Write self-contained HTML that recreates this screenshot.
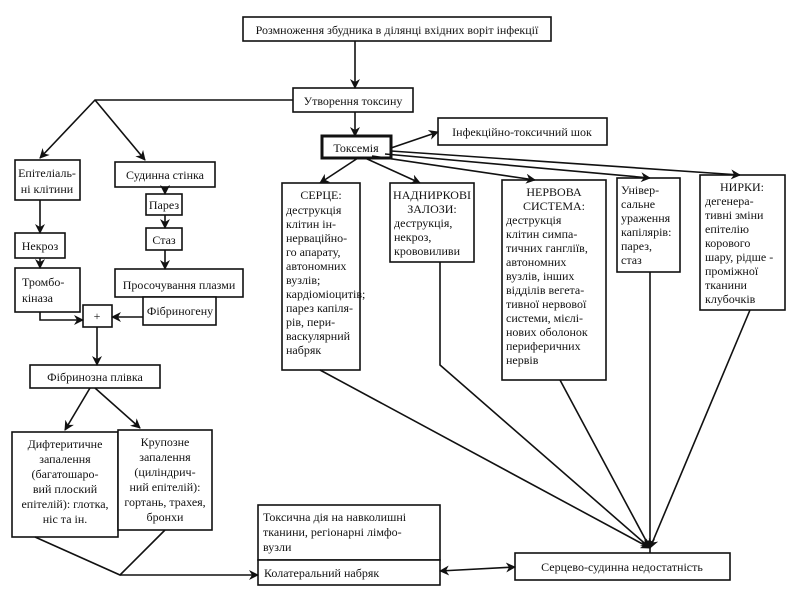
<!DOCTYPE html>
<html><head><meta charset="utf-8"><style>
body{margin:0;background:#fff;}
svg{display:block;font-family:"Liberation Serif",serif;font-size:12px;}
</style></head><body>
<svg width="800" height="600" viewBox="0 0 800 600" xmlns="http://www.w3.org/2000/svg">
<defs><marker id="a" markerWidth="10" markerHeight="10" refX="9" refY="5" orient="auto" markerUnits="userSpaceOnUse"><path d="M0,0 L10,5 L0,10 L3,5z" fill="#111"/></marker>
<marker id="b" markerWidth="10" markerHeight="10" refX="1" refY="5" orient="auto" markerUnits="userSpaceOnUse"><path d="M10,0 L0,5 L10,10 L7,5z" fill="#111"/></marker></defs>
<g fill="#fff" stroke="#111" stroke-width="1.6">
<rect x="243" y="17" width="308" height="24"/>
<rect x="293" y="88" width="120" height="24"/>
<rect x="322" y="136" width="69" height="22" stroke-width="3"/>
<rect x="438" y="118" width="169" height="27"/>
<rect x="15" y="160" width="65" height="40"/>
<rect x="115" y="162" width="100" height="25"/>
<rect x="146" y="194" width="36" height="21"/>
<rect x="146" y="228" width="36" height="22"/>
<rect x="115" y="269" width="128" height="28"/>
<rect x="143" y="297" width="73" height="28"/>
<rect x="15" y="233" width="50" height="25"/>
<rect x="15" y="268" width="65" height="44"/>
<rect x="83" y="305" width="29" height="22"/>
<rect x="30" y="365" width="130" height="23"/>
<rect x="12" y="432" width="106" height="105"/>
<rect x="118" y="430" width="94" height="100"/>
<rect x="258" y="505" width="182" height="55"/>
<rect x="258" y="560" width="182" height="25"/>
<rect x="515" y="553" width="215" height="27"/>
<rect x="282" y="183" width="78" height="187"/>
<rect x="390" y="183" width="84" height="79"/>
<rect x="502" y="180" width="104" height="200"/>
<rect x="617" y="178" width="63" height="94"/>
<rect x="700" y="175" width="85" height="135"/>
</g>
<g stroke="#111" stroke-width="1.6" fill="none">
<line x1="355" y1="41" x2="355" y2="88" marker-end="url(#a)"/>
<line x1="355" y1="112" x2="355" y2="136" marker-end="url(#a)"/>
<line x1="391" y1="148" x2="438" y2="132" marker-end="url(#a)"/>
<polyline points="293,100 95,100 40,158" marker-end="url(#a)"/>
<line x1="95" y1="100" x2="145" y2="160" marker-end="url(#a)"/>
<line x1="40" y1="200" x2="40" y2="233" marker-end="url(#a)"/>
<line x1="40" y1="258" x2="40" y2="268" marker-end="url(#a)"/>
<line x1="165" y1="187" x2="165" y2="194" marker-end="url(#a)"/>
<line x1="165" y1="215" x2="165" y2="228" marker-end="url(#a)"/>
<line x1="165" y1="250" x2="165" y2="269" marker-end="url(#a)"/>
<polyline points="40,312 40,320 83,320" marker-end="url(#a)"/>
<line x1="143" y1="317" x2="112" y2="317" marker-end="url(#a)"/>
<line x1="97" y1="327" x2="97" y2="365" marker-end="url(#a)"/>
<line x1="90" y1="388" x2="65" y2="430" marker-end="url(#a)"/>
<line x1="95" y1="388" x2="140" y2="428" marker-end="url(#a)"/>
<line x1="358" y1="158" x2="320" y2="183" marker-end="url(#a)"/>
<line x1="365" y1="158" x2="420" y2="183" marker-end="url(#a)"/>
<line x1="372" y1="156" x2="535" y2="180" marker-end="url(#a)"/>
<line x1="385" y1="154" x2="650" y2="178" marker-end="url(#a)"/>
<line x1="391" y1="151" x2="740" y2="175" marker-end="url(#a)"/>
<line x1="320" y1="370" x2="650" y2="548" marker-end="url(#a)"/>
<polyline points="440,262 440,365 650,548" marker-end="url(#a)"/>
<line x1="560" y1="380" x2="650" y2="548" marker-end="url(#a)"/>
<line x1="650" y1="272" x2="650" y2="548" marker-end="url(#a)"/>
<line x1="750" y1="310" x2="650" y2="548" marker-end="url(#a)"/>
<line x1="650" y1="548" x2="650" y2="553"/>
<polyline points="35,537 120,575 165,530"/>
<line x1="120" y1="575" x2="258" y2="575" marker-end="url(#a)"/>
<line x1="440" y1="571" x2="515" y2="567" marker-start="url(#b)" marker-end="url(#a)"/>
</g>
<g fill="#111">
<text x="397" y="34" text-anchor="middle">Розмноження збудника в ділянці вхідних воріт інфекції</text>
<text x="353" y="105" text-anchor="middle">Утворення токсину</text>
<text x="356" y="152" text-anchor="middle">Токсемія</text>
<text x="522" y="136" text-anchor="middle">Інфекційно-токсичний шок</text>
<text x="47" y="177" text-anchor="middle">Епітеліаль-</text><text x="47" y="193" text-anchor="middle">ні клітини</text>
<text x="165" y="179" text-anchor="middle">Судинна стінка</text>
<text x="164" y="209" text-anchor="middle">Парез</text>
<text x="164" y="244" text-anchor="middle">Стаз</text>
<text x="40" y="250" text-anchor="middle">Некроз</text>
<text x="22" y="286">Тромбо-</text><text x="22" y="302">кіназа</text>
<text x="179" y="289" text-anchor="middle">Просочування плазми</text>
<text x="180" y="315" text-anchor="middle">Фібриногену</text>
<text x="97" y="320" text-anchor="middle">+</text>
<text x="95" y="381" text-anchor="middle">Фібринозна плівка</text>
<g text-anchor="middle"><text x="65" y="448">Дифтеритичне</text><text x="65" y="463">запалення</text><text x="65" y="478">(багатошаро-</text><text x="65" y="493">вий плоский</text><text x="65" y="508">епітелій): глотка,</text><text x="65" y="523">ніс та ін.</text>
<text x="165" y="446">Крупозне</text><text x="165" y="461">запалення</text><text x="165" y="476">(циліндрич-</text><text x="165" y="491">ний епітелій):</text><text x="165" y="506">гортань, трахея,</text><text x="165" y="521">бронхи</text></g>
<text x="263" y="521">Токсична дія на навколишні</text><text x="263" y="536">тканини, регіонарні лімфо-</text><text x="263" y="551">вузли</text>
<text x="264" y="577">Колатеральний набряк</text>
<text x="622" y="571" text-anchor="middle">Серцево-судинна недостатність</text>
<text x="321" y="199" text-anchor="middle">СЕРЦЕ:</text>
<text x="286" y="214">деструкція</text><text x="286" y="228">клітин ін-</text><text x="286" y="242">нерваційно-</text><text x="286" y="256">го апарату,</text><text x="286" y="270">автономних</text><text x="286" y="284">вузлів;</text><text x="286" y="298">кардіоміоцитів;</text><text x="286" y="312">парез капіля-</text><text x="286" y="326">рів, пери-</text><text x="286" y="340">васкулярний</text><text x="286" y="354">набряк</text>
<text x="432" y="199" text-anchor="middle">НАДНИРКОВІ</text><text x="432" y="213" text-anchor="middle">ЗАЛОЗИ:</text>
<text x="394" y="227">деструкція,</text><text x="394" y="241">некроз,</text><text x="394" y="255">крововиливи</text>
<text x="554" y="196" text-anchor="middle">НЕРВОВА</text><text x="554" y="210" text-anchor="middle">СИСТЕМА:</text>
<text x="506" y="224">деструкція</text><text x="506" y="238">клітин симпа-</text><text x="506" y="252">тичних гангліїв,</text><text x="506" y="266">автономних</text><text x="506" y="280">вузлів, інших</text><text x="506" y="294">відділів вегета-</text><text x="506" y="308">тивної нервової</text><text x="506" y="322">системи, мієлі-</text><text x="506" y="336">нових оболонок</text><text x="506" y="350">периферичних</text><text x="506" y="364">нервів</text>
<text x="621" y="194">Універ-</text><text x="621" y="208">сальне</text><text x="621" y="222">ураження</text><text x="621" y="236">капілярів:</text><text x="621" y="250">парез,</text><text x="621" y="264">стаз</text>
<text x="742" y="191" text-anchor="middle">НИРКИ:</text>
<text x="705" y="205">дегенера-</text><text x="705" y="219">тивні зміни</text><text x="705" y="233">епітелію</text><text x="705" y="247">корового</text><text x="705" y="261">шару, рідше -</text><text x="705" y="275">проміжної</text><text x="705" y="289">тканини</text><text x="705" y="303">клубочків</text>
</g>
</svg>
</body></html>
